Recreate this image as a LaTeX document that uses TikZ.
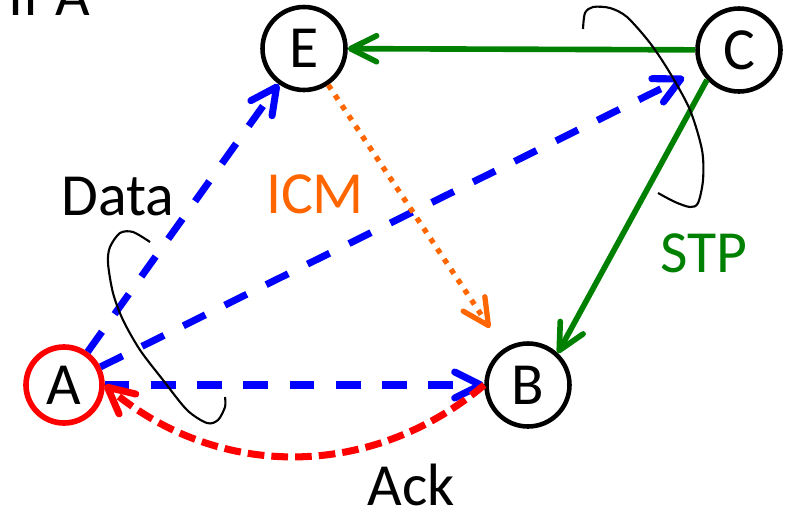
\documentclass[tikz,border=0pt]{standalone}
\usepackage{fontspec}
\setmainfont{Carlito}
\usetikzlibrary{arrows.meta}

\definecolor{stpgreen}{RGB}{0,128,0}
\definecolor{icmorange}{RGB}{255,102,0}

\begin{document}
\begin{tikzpicture}[
    font=\fontsize{34}{40}\selectfont,
    peer/.style={draw, circle, line width=2.6pt, minimum size=1.66cm, inner sep=0pt},
    arr/.style={-{Straight Barb[round, length=0.52cm, width=0.52cm]}},
    data/.style={arr, draw=blue, line width=4pt, dash pattern=on 14pt off 12.3pt},
    stp/.style={arr, draw=stpgreen, line width=3.2pt},
    icm/.style={arr, draw=icmorange, line width=3pt, dash pattern=on 3pt off 4pt},
    ack/.style={arr, draw=red, line width=4pt, dash pattern=on 9.5pt off 4pt},
    sweep/.style={draw, line width=1.2pt},
    lbl/.style={anchor=base},
]
\useasboundingbox (0,0) rectangle (15.74,10.32);

% Heading line, only its foot shows
\node[anchor=base west, inner sep=0pt] (head) at (0.17,10.02) {If A};

% Peers
\node[peer, draw=red, line width=3.2pt, minimum size=1.52cm] (A) at (1.28,2.62) {A};
\node[peer] (B) at (10.56,2.62) {B};
\node[peer] (C) at (14.78,9.32) {C};
\node[peer] (E) at (6.08,9.35) {E};

% Labels
\node[lbl] (datalbl) at (2.36,6.02) {Data};
\node[lbl, text=icmorange] (icmlbl) at (6.30,6.06) {ICM};
\node[lbl, text=stpgreen] (stplbl) at (14.08,4.88) {STP};
\node[lbl] (acklbl) at (8.22,0.22) {Ack};

% Arrows
\draw[stp] (C) -- (E);
\draw[stp] (C.223) -- (B.47);
\draw[data] (A) -- (E);
\draw[data, shorten >=0.35cm] (A) -- (C);
\draw[data] (A) -- (B);
\draw[icm, shorten >=0.5cm] (E) -- (B);
\draw[ack] (B.west) to[bend left=40] (A.east);

% Sweep arcs
\draw[sweep] plot[smooth] coordinates {(3.00,5.48) (2.66,5.68) (2.40,5.66) (2.20,5.38) (2.16,5.06) (2.26,4.46) (2.46,3.92) (2.80,3.32) (3.26,2.72) (3.74,2.12) (4.14,1.86) (4.36,1.92) (4.50,2.18) (4.50,2.38)};
\draw[sweep] plot[smooth] coordinates {(11.66,9.74) (11.70,10.06) (11.86,10.18) (12.20,10.16) (12.54,9.98) (13.00,9.46) (13.40,8.86) (13.80,8.12) (14.04,7.32) (14.06,6.72) (13.96,6.26) (13.80,6.18) (13.50,6.28) (13.16,6.46)};

\end{tikzpicture}
\end{document}
